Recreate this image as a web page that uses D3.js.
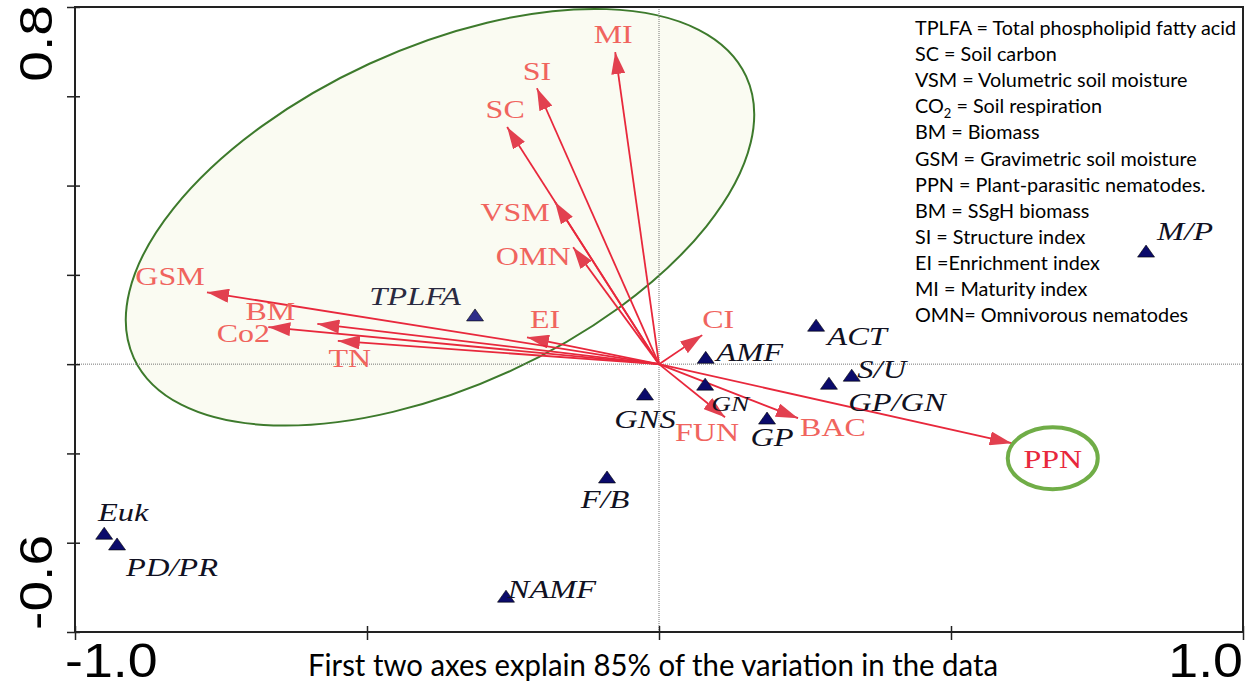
<!DOCTYPE html>
<html>
<head>
<meta charset="utf-8">
<script src="https://cdn.jsdelivr.net/npm/d3@7"></script>
<style>
  body { margin: 0; background: #fff; }
  svg { display: block; }
</style>
</head>
<body>
<div class="chart"></div>
<script>
// environmental / nematode variables drawn as arrows
const envNames = ["MI", "SI", "SC", "VSM", "OMN", "EI", "GSM", "BM", "Co2", "TN", "CI", "FUN", "BAC", "PPN"];
const envX = [-0.075, -0.209, -0.260, -0.178, -0.147, -0.226, -0.774, -0.585, -0.669, -0.550, 0.074, 0.113, 0.238, 0.604];
const envY = [0.699, 0.618, 0.531, 0.363, 0.262, 0.060, 0.161, 0.090, 0.083, 0.052, 0.065, -0.119, -0.121, -0.177];

// microbial groups drawn as triangles
const siteNames = ["TPLFA", "M/P", "ACT", "AMF", "S/U", "GP/GN", "GN", "GNS", "GP", "F/B", "Euk", "PD/PR", "NAMF"];
const siteX = [-0.315, 0.834, 0.269, 0.080, 0.330, 0.291, 0.079, -0.024, 0.185, -0.089, -0.950, -0.928, -0.262];
const siteY = [0.108, 0.251, 0.085, 0.013, -0.027, -0.045, -0.047, -0.069, -0.123, -0.255, -0.381, -0.405, -0.522];

const xTicks = [-1.0, -0.5, 0, 0.5, 1.0];
const yTicks = [-0.6, -0.4, -0.2, 0, 0.2, 0.4, 0.6, 0.8];
const xTickLabels = ["-1.0", "1.0"];
const yTickLabels = ["-0.6", "0.8"];

const caption = "First two axes explain 85% of the variation in the data";
const legendLines = [
  "TPLFA = Total phospholipid fatty acid",
  "SC = Soil carbon",
  "VSM = Volumetric soil moisture",
  "CO2 = Soil respiration",
  "BM = Biomass",
  "GSM = Gravimetric soil moisture",
  "PPN = Plant-parasitic nematodes.",
  "BM = SSgH biomass",
  "SI = Structure index",
  "EI =Enrichment index",
  "MI = Maturity index",
  "OMN= Omnivorous nematodes"
];

// label offsets in pixels (layout only)
const envLabelOff = {
  MI: [-2, -9], SI: [0, -8], SC: [-2, -9], VSM: [-40, 19], OMN: [-40, 18], EI: [18, -9],
  GSM: [-37, -7], BM: [-47, -4], Co2: [-25, 15], TN: [12, 26], CI: [16, -7],
  FUN: [-18, 24], BAC: [35, 18], PPN: [41, 25]
};
const siteLabelOff = {
  "TPLFA": [-60, -11], "M/P": [39, -12], "ACT": [41, 19], "AMF": [44, 3], "S/U": [30, 2],
  "GP/GN": [68, 27], "GN": [25, 26], "GNS": [0, 33], "GP": [5, 27], "F/B": [-2, 30],
  "Euk": [19, -13], "PD/PR": [55, 31], "NAMF": [46, 1]
};

const W = 1248, H = 683;
const plotL = 75, plotR = 1243, plotT = 7, plotB = 632;

const svg = d3.select('.chart').append('svg')
    .attr('width', W)
    .attr('height', H);

const x = d3.scaleLinear().domain([-1, 1]).range([plotL, plotR]);
const y = d3.scaleLinear().domain([-0.6, 0.8]).range([plotB, plotT]);

// ellipse around the soil variables
const ell = {cx: -0.375, cy: 0.329, rx: 337, ry: 169, angle: -24.7};
svg.append('ellipse')
    .attr('transform', `translate(${x(ell.cx)},${y(ell.cy)}) rotate(${ell.angle})`)
    .attr('rx', ell.rx)
    .attr('ry', ell.ry)
    .attr('fill', '#fafbf2')
    .attr('stroke', '#3d7a2c')
    .attr('stroke-width', 2);

// dotted zero lines
svg.append('line')
    .attr('x1', plotL).attr('x2', plotR)
    .attr('y1', y(0)).attr('y2', y(0))
    .attr('stroke', '#777').attr('stroke-width', 1).attr('stroke-dasharray', '1,1');
svg.append('line')
    .attr('x1', x(0)).attr('x2', x(0))
    .attr('y1', plotT).attr('y2', plotB)
    .attr('stroke', '#777').attr('stroke-width', 1).attr('stroke-dasharray', '1,1');

// frame
svg.append('rect')
    .attr('x', plotL).attr('y', plotT)
    .attr('width', plotR - plotL).attr('height', plotB - plotT)
    .attr('fill', 'none').attr('stroke', '#222').attr('stroke-width', 2);

// axes with crossing ticks
const xAxis = svg.append('g')
    .attr('transform', `translate(0,${plotB})`)
    .call(d3.axisBottom(x).tickValues(xTicks).tickFormat('').tickSize(8));
xAxis.select('.domain').remove();
xAxis.selectAll('.tick line').attr('y1', -6).attr('y2', 8).attr('stroke', '#222').attr('stroke-width', 1.5);

const yAxis = svg.append('g')
    .attr('transform', `translate(${plotL},0)`)
    .call(d3.axisLeft(y).tickValues(yTicks).tickFormat('').tickSize(8));
yAxis.select('.domain').remove();
yAxis.selectAll('.tick line').attr('x1', -8).attr('x2', 5).attr('stroke', '#222').attr('stroke-width', 1.5);

// axis end labels
svg.append('text')
    .attr('transform', `translate(${x(-1) - 10},677) scale(1.12,1)`)
    .attr('font-family', 'Liberation Sans, Arial, sans-serif')
    .attr('font-size', 48)
    .attr('text-anchor', 'start')
    .text(xTickLabels[0]);
svg.append('text')
    .attr('transform', `translate(${x(1)},677) scale(1.12,1)`)
    .attr('font-family', 'Liberation Sans, Arial, sans-serif')
    .attr('font-size', 48)
    .attr('text-anchor', 'end')
    .text(xTickLabels[1]);
svg.append('text')
    .attr('transform', `translate(52,${y(0.8) - 2}) rotate(-90) scale(1.2,1)`)
    .attr('font-family', 'Liberation Sans, Arial, sans-serif')
    .attr('font-size', 46)
    .attr('text-anchor', 'end')
    .text(yTickLabels[1]);
svg.append('text')
    .attr('transform', `translate(52,${y(-0.6) - 2}) rotate(-90) scale(1.2,1)`)
    .attr('font-family', 'Liberation Sans, Arial, sans-serif')
    .attr('font-size', 46)
    .attr('text-anchor', 'start')
    .text(yTickLabels[0]);

// caption
svg.append('text')
    .attr('x', 308).attr('y', 676)
    .attr('font-family', 'Lato, sans-serif')
    .attr('font-size', 30)
    .attr('textLength', 690)
    .attr('lengthAdjust', 'spacingAndGlyphs')
    .text(caption);

// arrow marker
svg.append('defs').append('marker')
    .attr('id', 'head')
    .attr('viewBox', '0 -7 22 14')
    .attr('refX', 22).attr('refY', 0)
    .attr('markerUnits', 'userSpaceOnUse')
    .attr('markerWidth', 22).attr('markerHeight', 14)
    .attr('orient', 'auto')
    .append('path')
    .attr('d', 'M0,-7L22,0L0,7Z')
    .attr('fill', '#e2404f');

const env = envNames.map((n, i) => ({name: n, x: envX[i], y: envY[i]}));
const sites = siteNames.map((n, i) => ({name: n, x: siteX[i], y: siteY[i]}));

svg.selectAll('.arrow')
    .data(env)
    .enter()
    .append('line')
    .attr('class', 'arrow')
    .attr('x1', x(0)).attr('y1', y(0))
    .attr('x2', d => x(d.x)).attr('y2', d => y(d.y))
    .attr('stroke', '#e8283c')
    .attr('stroke-width', 1.8)
    .attr('marker-end', 'url(#head)');

// green highlight round PPN
const ppn = env.find(d => d.name === 'PPN');
svg.append('ellipse')
    .attr('cx', x(ppn.x) + 41).attr('cy', y(ppn.y) + 15)
    .attr('rx', 45).attr('ry', 31)
    .attr('fill', 'none')
    .attr('stroke', '#70ad47')
    .attr('stroke-width', 4);

svg.selectAll('.envlabel')
    .data(env)
    .enter()
    .append('text')
    .attr('class', 'envlabel')
    .attr('transform', d => `translate(${x(d.x) + envLabelOff[d.name][0]},${y(d.y) + envLabelOff[d.name][1]}) scale(1.28,1)`)
    .attr('text-anchor', 'middle')
    .attr('font-family', 'Liberation Serif, Times New Roman, serif')
    .attr('font-size', 25)
    .attr('fill', d => d.name === 'PPN' ? '#e8283c' : '#f0645e')
    .text(d => d.name);

// triangles
const tri = 'M0,-7L8.5,5L-8.5,5Z';
svg.selectAll('.site')
    .data(sites)
    .enter()
    .append('path')
    .attr('class', 'site')
    .attr('d', tri)
    .attr('transform', d => `translate(${x(d.x)},${y(d.y)})`)
    .attr('fill', d => d.name === 'TPLFA' ? '#2e2e8a' : '#0b0b6b')
    .attr('stroke', '#000')
    .attr('stroke-width', 0.6);

svg.selectAll('.sitelabel')
    .data(sites)
    .enter()
    .append('text')
    .attr('class', 'sitelabel')
    .attr('transform', d => `translate(${x(d.x) + siteLabelOff[d.name][0]},${y(d.y) + siteLabelOff[d.name][1]}) scale(1.3,1)`)
    .attr('text-anchor', 'middle')
    .attr('font-family', 'Liberation Serif, Times New Roman, serif')
    .attr('font-style', 'italic')
    .attr('font-size', d => d.name === 'GN' ? 21 : 25)
    .attr('fill', d => d.name === 'TPLFA' ? '#2a2a40' : '#111122')
    .text(d => d.name);

// legend
const legend = svg.append('g')
    .attr('font-family', 'Lato, Calibri, sans-serif')
    .attr('font-size', 19.8)
    .attr('fill', '#000');
legend.selectAll('text')
    .data(legendLines)
    .enter()
    .append('text')
    .attr('x', 915)
    .attr('y', (d, i) => 35 + i * 26.1)
    .each(function(d) {
        const t = d3.select(this);
        if (d.startsWith('CO2')) {
            t.append('tspan').text('CO');
            t.append('tspan').attr('font-size', 13).attr('dy', 5).text('2');
            t.append('tspan').attr('dy', -5).text(d.slice(3));
        } else {
            t.text(d);
        }
    });
</script>
</body>
</html>
